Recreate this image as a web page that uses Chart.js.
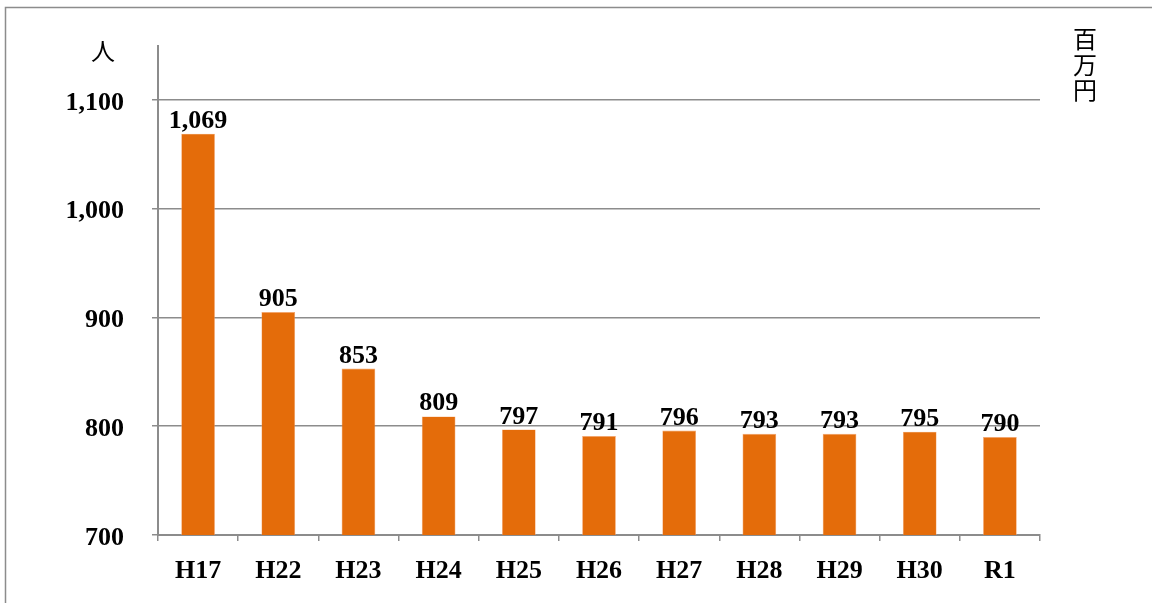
<!DOCTYPE html>
<html><head><meta charset="utf-8">
<script src="https://cdn.jsdelivr.net/npm/chart.js@4/dist/chart.umd.min.js"></script>
<style>html,body{margin:0;padding:0;background:#fff;}#wrap{width:1152px;height:603px;position:relative;}</style>
</head><body><div id="wrap"><canvas id="c" width="1152" height="603"></canvas></div>
<script>
const categories = ['H17','H22','H23','H24','H25','H26','H27','H28','H29','H30','R1'];
const values = [1069, 905, 853, 809, 797, 791, 796, 793, 793, 795, 790];
const yTicks = [700, 800, 900, 1000, 1100];
const leftUnit = '人';
const rightUnit = ['百','万','円'];

const FONT = '"Liberation Serif", "DejaVu Serif", serif';
const JFONT = '"Noto Sans CJK JP", sans-serif';

const decor = {
  id: 'decor',
  afterDraw(chart) {
    const ctx = chart.ctx;
    ctx.save();
    ctx.strokeStyle = '#8c8c8c';
    ctx.lineWidth = 1.5;
    ctx.beginPath();
    ctx.moveTo(5.5, 603); ctx.lineTo(5.5, 7.5); ctx.lineTo(1152, 7.5);
    ctx.stroke();
    ctx.fillStyle = '#000';
    ctx.font = '24px ' + JFONT;
    ctx.textAlign = 'center'; ctx.textBaseline = 'middle';
    ctx.fillText(leftUnit, 103, 51);
    rightUnit.forEach((ch, i) => ctx.fillText(ch, 1085, 39 + i * 25.5));
    // data labels
    ctx.font = 'bold 26px ' + FONT;
    ctx.textBaseline = 'alphabetic';
    const meta = chart.getDatasetMeta(0);
    meta.data.forEach((bar, i) => {
      ctx.fillText(values[i].toLocaleString('en-US'), bar.x, bar.y - 6);
    });
    ctx.restore();
  }
};

new Chart(document.getElementById('c'), {
  type: 'bar',
  data: {
    labels: categories,
    datasets: [{
      data: values,
      backgroundColor: '#E46C0A',
      borderColor: '#F5A26A',
      borderWidth: 0.6,
      barPercentage: 0.42,
      categoryPercentage: 1
    }]
  },
  options: {
    responsive: false,
    animation: false,
    layout: { padding: { left: 0, right: 112, top: 45.6, bottom: 0 } },
    plugins: { legend: { display: false }, tooltip: { enabled: false } },
    scales: {
      x: {
        offset: true,
        grid: { offset: true, drawOnChartArea: false, color: '#8c8c8c', tickLength: 6, lineWidth: 1.5 },
        border: { color: '#8c8c8c', width: 2 },
        ticks: { color: '#000', font: { family: FONT, size: 26, weight: 'bold' }, padding: 15 },
        afterFit(s) { s.height = 68; }
      },
      y: {
        min: 700, max: 1150,
        afterBuildTicks(s) { s.ticks = yTicks.map(v => ({ value: v })); },
        grid: { color: '#8c8c8c', lineWidth: 1.5, tickLength: 6 },
        border: { color: '#8c8c8c', width: 2 },
        ticks: {
          color: '#000', font: { family: FONT, size: 26, weight: 'bold' }, padding: 28, labelOffset: 3,
          callback: v => v.toLocaleString('en-US')
        },
        afterFit(s) { s.width = 158; }
      }
    }
  },
  plugins: [decor]
});
</script></body></html>
